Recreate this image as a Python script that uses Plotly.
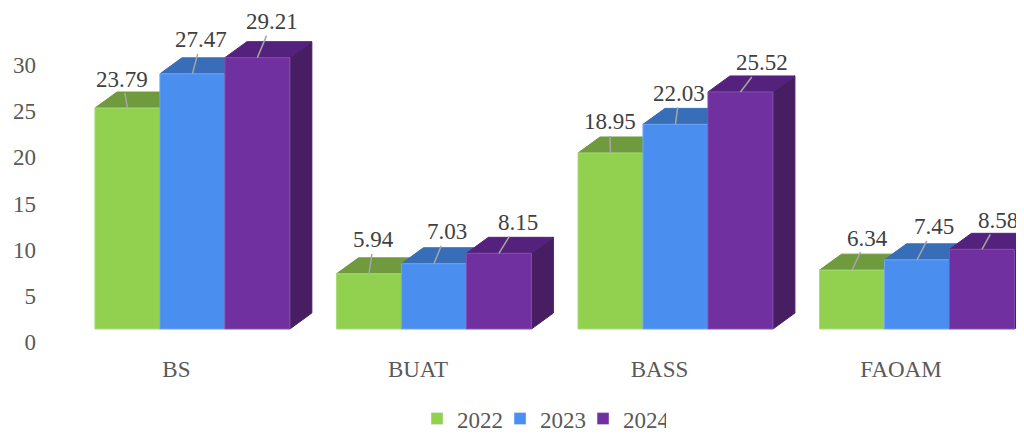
import plotly.graph_objects as go

# ---- data ----
categories = ["BS", "BUAT", "BASS", "FAOAM"]
years = ["2022", "2023", "2024"]
v2022 = [23.79, 5.94, 18.95, 6.34]
v2023 = [27.47, 7.03, 22.03, 7.45]
v2024 = [29.21, 8.15, 25.52, 8.58]
y_ticks = [0, 5, 10, 15, 20, 25, 30]
y_ticktext = ["0", "5", "10", "15", "20", "25", "30"]

series = [v2022, v2023, v2024]

# ---- style ----
front_colors = ["#92D050", "#4A8EF0", "#7030A0"]
top_colors = ["#6F9A3D", "#386DB8", "#54217C"]
side_colors = ["#5E8534", "#2F5A9C", "#481E63"]
edge_colors = ["#A8DC7A", "#6FA6F5", "#8350B0"]
FONT = "Liberation Serif, Times New Roman, serif"
BAR_W = 0.269      # bar width in category units
DEPTH_X = 0.091    # 3D depth offset (x, category units)
DEPTH_Y = 1.72     # 3D depth offset (y, value units)
label_dx = [[-5, 5, -1, 15], [9, 13, 4, 17], [15, 19, 22, 16]]
label_dy = [[-29, -34, -31, -32], [-34, -32, -31, -33], [-36, -31, -29, -29]]

fig = go.Figure()


def polys(vals, s, kind):
    xs, ys = [], []
    for i, v in enumerate(vals):
        xc = i + (s - 1) * BAR_W
        xl, xr = xc - BAR_W / 2, xc + BAR_W / 2
        if kind == "front":
            px, py = [xl, xr, xr, xl, xl], [0, 0, v, v, 0]
        elif kind == "top":
            px = [xl, xr, xr + DEPTH_X, xl + DEPTH_X, xl]
            py = [v, v, v + DEPTH_Y, v + DEPTH_Y, v]
        else:
            px = [xr, xr + DEPTH_X, xr + DEPTH_X, xr, xr]
            py = [0, DEPTH_Y, v + DEPTH_Y, v, 0]
        xs += px + [None]
        ys += py + [None]
    return xs, ys


for s, vals in enumerate(series):
    for kind, col, lc in (("side", side_colors[s], side_colors[s]),
                          ("top", top_colors[s], top_colors[s]),
                          ("front", front_colors[s], edge_colors[s])):
        xs, ys = polys(vals, s, kind)
        fig.add_trace(go.Scatter(
            x=xs, y=ys, mode="lines", fill="toself", fillcolor=col,
            line=dict(color=lc, width=1), showlegend=False,
            hoverinfo="skip"))

# legend entries
for s, yr in enumerate(years):
    fig.add_trace(go.Bar(x=[None], y=[None], name=yr,
                         marker_color=front_colors[s]))

# invisible trace for tick-label axis
fig.add_trace(go.Scatter(x=[None], y=[None], yaxis="y2", showlegend=False,
                         hoverinfo="skip"))

# data labels with leader lines
for s, vals in enumerate(series):
    for i, v in enumerate(vals):
        xc = i + (s - 1) * BAR_W
        fig.add_annotation(
            x=xc, y=v, xref="x", yref="y", text=f"{v:.2f}",
            showarrow=True, arrowhead=0, arrowwidth=1.5,
            arrowcolor="#A6A6A6", ax=label_dx[s][i], ay=label_dy[s][i],
            font=dict(family=FONT, size=23, color="#404040"))

tickfont = dict(family=FONT, size=23, color="#595959")
fig.update_layout(
    width=1016, height=426,
    margin=dict(l=32, r=0, t=2, b=89),
    paper_bgcolor="white", plot_bgcolor="white",
    showlegend=True,
    legend=dict(orientation="h", xref="container", yref="container",
                x=0.4026, xanchor="left", y=0.036, yanchor="middle",
                font=dict(family=FONT, size=23, color="#595959"),
                itemwidth=30, entrywidth=38, entrywidthmode="pixels"),
    xaxis=dict(range=[-0.631, 3.443], tickvals=[0, 1, 2, 3],
               ticktext=categories, showgrid=False, zeroline=False,
               showline=False, ticks="", tickfont=tickfont,
               ticklabelshift=-16, ticklabelstandoff=8, fixedrange=True),
    yaxis=dict(range=[-1.722, 34.34], visible=False, fixedrange=True),
    yaxis2=dict(range=[-0.325, 35.96], overlaying="y", side="left",
                anchor="x", tickvals=y_ticks, ticktext=y_ticktext,
                showgrid=False, zeroline=False, showline=False, ticks="",
                tickfont=tickfont, ticklabelstandoff=3, fixedrange=True),
)

fig.write_html("out.html")
